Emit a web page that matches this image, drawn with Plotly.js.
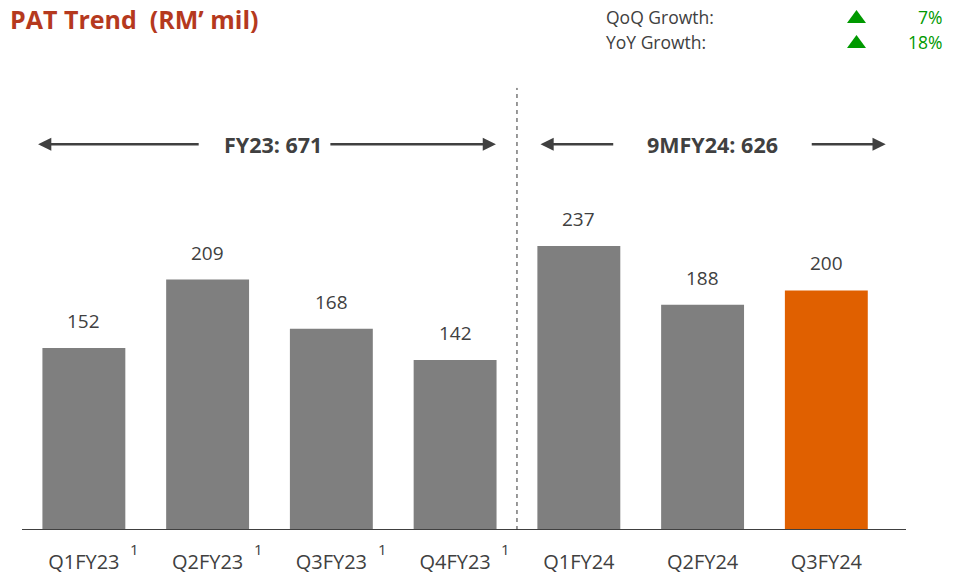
<!DOCTYPE html>
<html>
<head>
<meta charset="utf-8">
<script src="https://cdn.plot.ly/plotly-3.0.1.min.js"></script>
<style>html,body{margin:0;padding:0;background:#fff;}#chart{width:963px;height:574px;}</style>
</head>
<body>
<div id="chart"></div>
<script>
// Data
const categories = ["Q1FY23", "Q2FY23", "Q3FY23", "Q4FY23", "Q1FY24", "Q2FY24", "Q3FY24"];
const patValues = [152, 209, 168, 142, 237, 188, 200];
const footnoteMarks = ["1", "1", "1", "1", "", "", ""];
const barColors = ["#7F7F7F", "#7F7F7F", "#7F7F7F", "#7F7F7F", "#7F7F7F", "#7F7F7F", "#E06000"];
const periodLabels = ["FY23: 671", "9MFY24: 626"];
const growthLabels = ["QoQ Growth:", "YoY Growth:"];
const growthValues = ["7%", "18%"];

const xIdx = categories.map((c, i) => i);
const grey = "#404040";
const green = "#009900";
const font = "Open Sans, Noto Sans, sans-serif";

// plot area geometry (for paper coordinates)
const W = 963, H = 574, ML = 22, MR = 55, MT = 40, MB = 44;
const PW = W - ML - MR, PH = H - MT - MB;
const px = v => (v - ML) / PW;
const py = v => (H - MB - v) / PH;

const trace = {
  type: "bar",
  x: xIdx,
  y: patValues,
  width: 0.67,
  marker: {color: barColors},
  hoverinfo: "skip"
};

const annotations = [];
// value labels
patValues.forEach((v, i) => {
  annotations.push({x: i, y: v, xref: "x", yref: "y", text: String(v), showarrow: false,
    yanchor: "bottom", yshift: 12, font: {family: font, size: 19, color: grey}});
});
// footnote superscripts
footnoteMarks.forEach((m, i) => {
  if (m) annotations.push({x: i + 0.41, y: 0, xref: "x", yref: "y", text: m, showarrow: false,
    yanchor: "top", yshift: -7, font: {family: font, size: 15, color: grey}});
});
// arrows
function arrow(xh, xt) {
  annotations.push({x: xh, y: 322, ax: xt, ay: 322, xref: "x", yref: "y", axref: "x", ayref: "y",
    text: "", showarrow: true, arrowhead: 2, arrowsize: 1.1, arrowwidth: 2.4, arrowcolor: grey});
}
arrow(-0.37, 0.94);   // left arrow FY23
arrow(3.33, 1.98);    // right arrow FY23
arrow(3.69, 4.29);    // left arrow 9M
arrow(6.48, 5.87);    // right arrow 9M
// period labels
annotations.push({x: 1.53, y: 322, xref: "x", yref: "y", text: "<b>" + periodLabels[0] + "</b>", showarrow: false,
  font: {family: font, size: 21.5, color: grey}});
annotations.push({x: 5.08, y: 322, xref: "x", yref: "y", text: "<b>" + periodLabels[1] + "</b>", showarrow: false,
  font: {family: font, size: 21.5, color: grey}});

// title
annotations.push({x: px(8), y: py(19), xref: "paper", yref: "paper", xanchor: "left", yanchor: "middle",
  text: "<b>PAT Trend  (RM\u2019 mil)</b>", showarrow: false, font: {family: font, size: 25, color: "#B5391E"}});

// growth box
const shapes = [
  {type: "line", xref: "paper", yref: "y", x0: 0, x1: px(906), y0: 0, y1: 0, line: {color: "#404040", width: 2}},
  {type: "line", xref: "x", yref: "y", x0: 3.5, x1: 3.5, y0: 0, y1: 369, line: {color: "#333333", width: 1, dash: "4px,4px"}}
];
growthLabels.forEach((g, k) => {
  const cy = 17 + k * 25;
  const yv = py(cy);
  annotations.push({x: px(604), y: yv, xref: "paper", yref: "paper", xanchor: "left", yanchor: "middle",
    text: g, showarrow: false, font: {family: font, size: 17.5, color: grey}});
  annotations.push({x: px(944), y: yv, xref: "paper", yref: "paper", xanchor: "right", yanchor: "middle",
    text: growthValues[k], showarrow: false, font: {family: font, size: 17.5, color: green}});
  // up-triangle marker
  const x0 = px(847), x1 = px(866), xm = px(856.5), yt = py(cy - 7), yb = py(cy + 6);
  shapes.push({type: "path", xref: "paper", yref: "paper",
    path: `M ${x0} ${yb} L ${x1} ${yb} L ${xm} ${yt} Z`, fillcolor: green, line: {width: 0}});
});

const layout = {
  width: W, height: H,
  margin: {l: ML, r: MR, t: MT, b: MB},
  paper_bgcolor: "#fff", plot_bgcolor: "#fff",
  showlegend: false,
  xaxis: {range: [-0.5, 6.66], tickvals: xIdx, ticktext: categories, showgrid: false, zeroline: false,
    showline: false, ticks: "outside", ticklen: 14, tickcolor: "rgba(0,0,0,0)",
    tickfont: {family: font, size: 20, color: grey}, fixedrange: true},
  yaxis: {range: [0, PH / 1.198], visible: false, fixedrange: true},
  shapes: shapes,
  annotations: annotations
};

Plotly.newPlot("chart", [trace], layout, {displayModeBar: false, staticPlot: true});
</script>
</body>
</html>
